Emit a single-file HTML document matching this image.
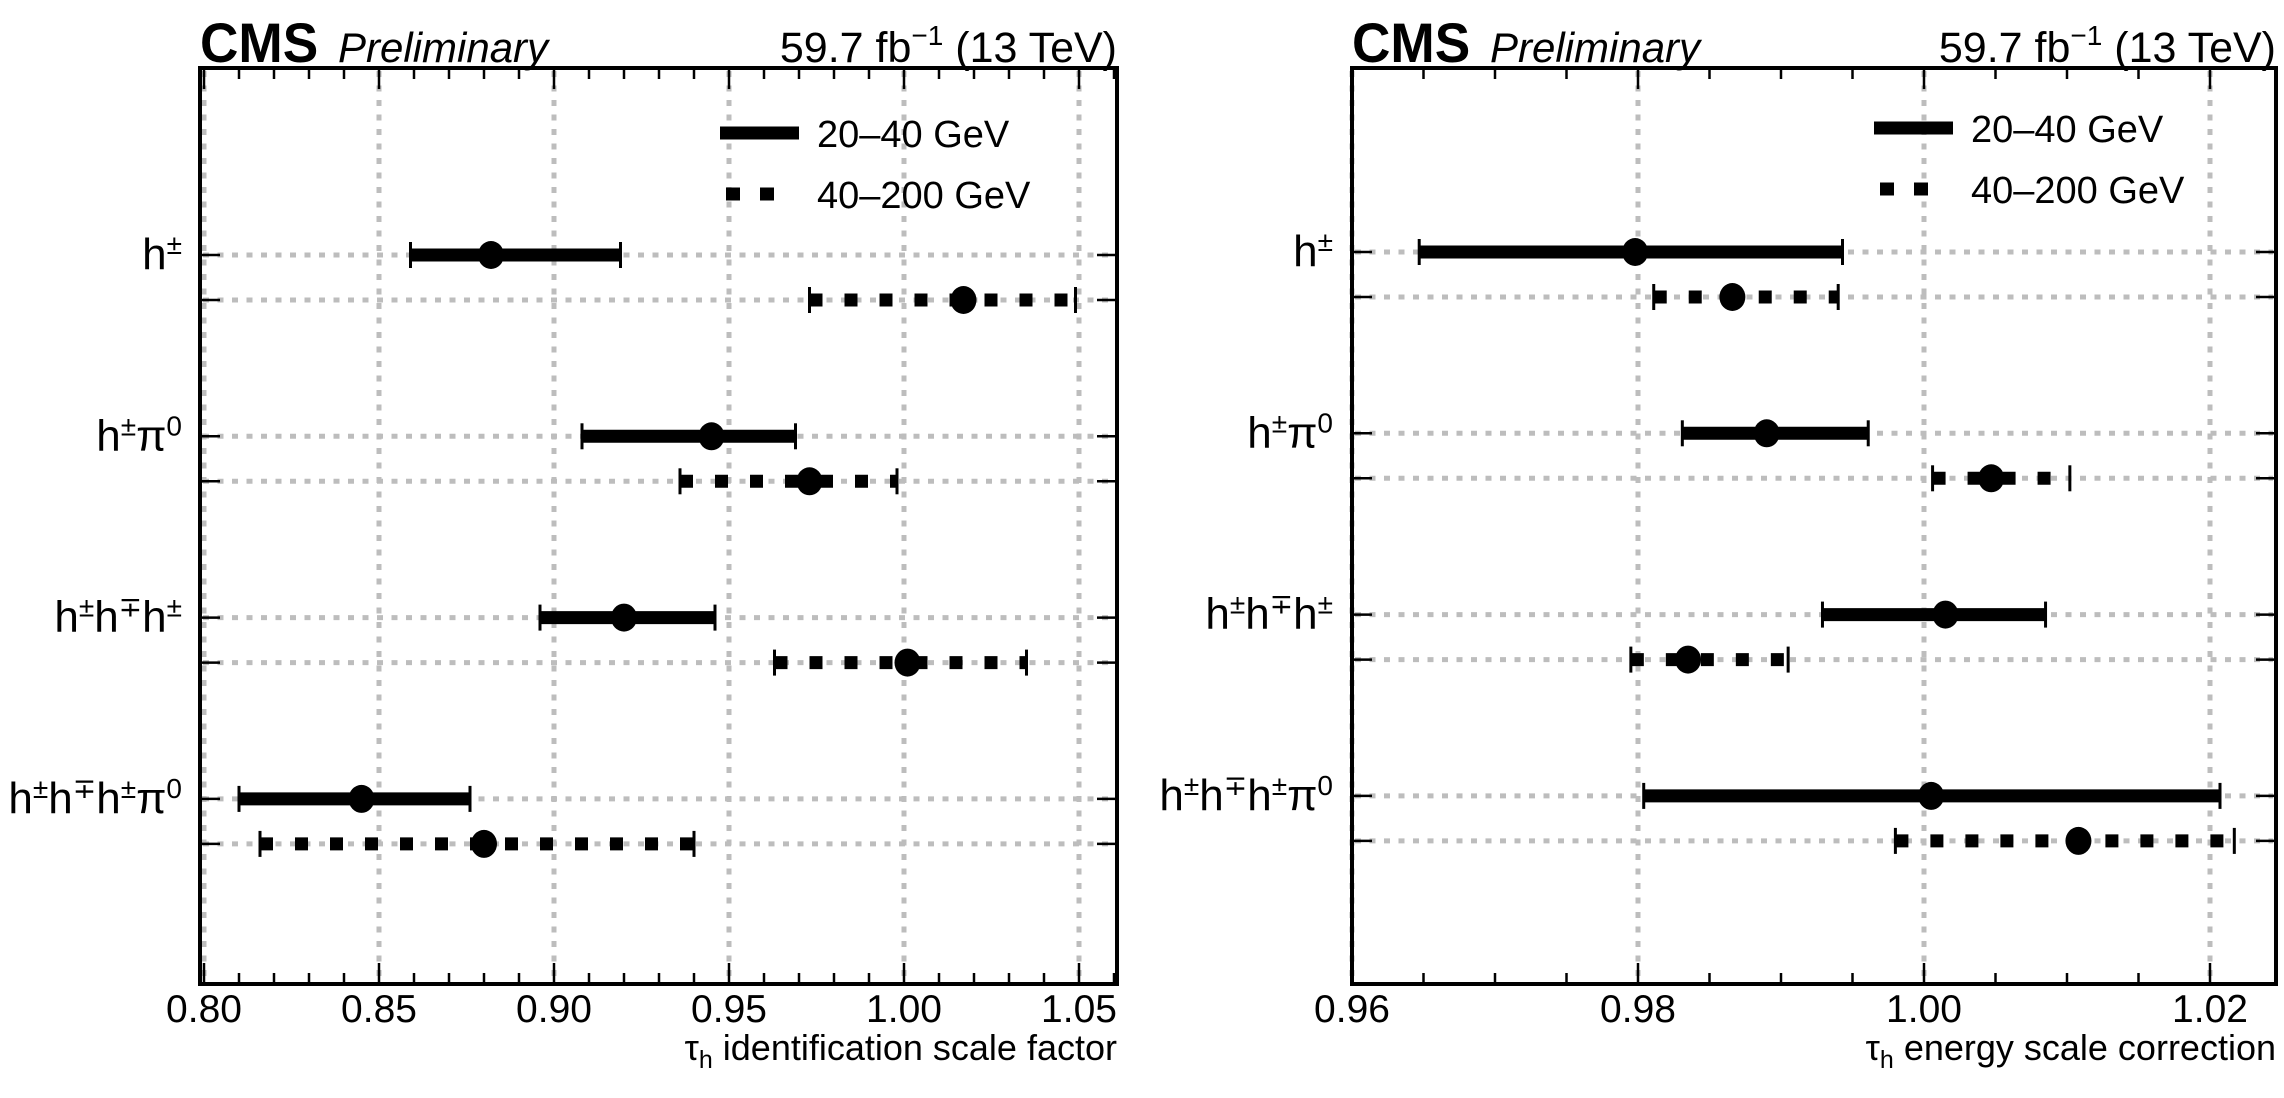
<!DOCTYPE html>
<html><head><meta charset="utf-8"><style>
html,body{margin:0;padding:0;background:#fff;width:2284px;height:1098px;overflow:hidden}
svg text{font-family:"Liberation Sans",sans-serif;fill:#000}
</style></head><body>
<svg id="chart" width="2284" height="1098" viewBox="0 0 2284 1098" xmlns="http://www.w3.org/2000/svg"></svg>
<script>
const categories = ["h±", "h±π0", "h±h∓h±", "h±h∓h±π0"];
const idLowVal = [0.882, 0.945, 0.920, 0.845];
const idLowErrLo = [0.859, 0.908, 0.896, 0.810];
const idLowErrHi = [0.919, 0.969, 0.946, 0.876];
const idHighVal = [1.017, 0.973, 1.001, 0.880];
const idHighErrLo = [0.973, 0.936, 0.963, 0.816];
const idHighErrHi = [1.049, 0.998, 1.035, 0.940];
const esLowVal = [0.9798, 0.9890, 1.0015, 1.0005];
const esLowErrLo = [0.9647, 0.9831, 0.9929, 0.9804];
const esLowErrHi = [0.9943, 0.9961, 1.0085, 1.0207];
const esHighVal = [0.9866, 1.0047, 0.9835, 1.0108];
const esHighErrLo = [0.9811, 1.0006, 0.9795, 0.9980];
const esHighErrHi = [0.9940, 1.0102, 0.9905, 1.0217];
const idTickLabels = ["0.80", "0.85", "0.90", "0.95", "1.00", "1.05"];
const esTickLabels = ["0.96", "0.98", "1.00", "1.02"];
const legendLabels = ["20–40 GeV", "40–200 GeV"];

const NS = "http://www.w3.org/2000/svg";
const svg = document.getElementById("chart");
function mk(tag, attrs, parent) {
  const e = document.createElementNS(NS, tag);
  for (const k in attrs) e.setAttribute(k, attrs[k]);
  (parent || svg).appendChild(e);
  return e;
}
function catLabel(g, x, y, name) {
  const t = mk("text", {x: x, y: y, "text-anchor": "end", "font-size": 44}, g);
  
  
  const parts = name.match(/h±|h∓|π0/g);
  parts.forEach(p => {
    const base = p[0], sup = p.slice(1);
    const a = mk("tspan", {dy: 0, "font-size": 44}, t); a.textContent = base;
    const b = mk("tspan", {dy: -15, "font-size": 28}, t); b.textContent = sup;
    const c = mk("tspan", {dy: 15, "font-size": 44}, t); c.textContent = "\u200B";
  });
}

function panel(opt) {
  const g = mk("g", {});
  
  
  const L = opt.left, R = opt.right, T = 68, B = 984;
  const xs = v => opt.x0px + (v - opt.x0) * opt.pxPerUnit;
  const rowY = (i, k) => opt.y0 + i * 181.3 + k * 45;
  const gridG = mk("g", {}, g);
  
  
  opt.ticks.forEach((lab) => {
    const x = xs(parseFloat(lab));
    const l = mk("line", {x1: x, x2: x, y1: T + 3, y2: B - 3, stroke: "#bdbdbd", "stroke-width": 5, "stroke-dasharray": "6 8.5"}, gridG);
    
    
  });
  categories.forEach((c, i) => {
    [0, 1].forEach(k => {
      const y = rowY(i, k);
      const l = mk("line", {x1: L + 3, x2: R - 3, y1: y, y2: y, stroke: "#bdbdbd", "stroke-width": 5, "stroke-dasharray": "6 8.5"}, gridG);
      
      
      mk("line", {x1: L, x2: L + 20, y1: y, y2: y, stroke: "#000", "stroke-width": 2.5}, g);
      mk("line", {x1: R - 20, x2: R, y1: y, y2: y, stroke: "#000", "stroke-width": 2.5}, g);
    });
    catLabel(g, opt.labelRight, rowY(i, 0) + 14, c);
  });
  for (let v = opt.x0; v <= opt.xmax + 1e-9; v += opt.minor) {
    const x = xs(v);
    if (x < L + 1 || x > R - 1) continue;
    const isMaj = Math.abs(v / opt.major - Math.round(v / opt.major)) < 1e-6;
    const len = isMaj ? 21 : 11;
    mk("line", {x1: x, x2: x, y1: T, y2: T + len, stroke: "#000", "stroke-width": 2.5}, g);
    mk("line", {x1: x, x2: x, y1: B, y2: B - len, stroke: "#000", "stroke-width": 2.5}, g);
  }
  opt.ticks.forEach(lab => {
    const t = mk("text", {x: xs(parseFloat(lab)), y: 1022, "text-anchor": "middle", "font-size": 39}, g);
    t.textContent = lab;
    
    
  });
  const series = [
    {val: opt.lowVal, lo: opt.lowLo, hi: opt.lowHi, k: 0, dash: null, nm: "series-20-40"},
    {val: opt.highVal, lo: opt.highLo, hi: opt.highHi, k: 1, dash: "13 22", nm: "series-40-200"}
  ];
  series.forEach(s => {
    const sg = mk("g", {}, g);
    
    
    s.val.forEach((v, i) => {
      const y = rowY(i, s.k), x1 = xs(s.lo[i]), x2 = xs(s.hi[i]);
      const a = {x1: x1, x2: x2, y1: y, y2: y, stroke: "#000", "stroke-width": 13};
      if (s.dash) a["stroke-dasharray"] = s.dash;
      const bar = mk("line", a, sg);
      
      
      mk("line", {x1: x1, x2: x1, y1: y - 13, y2: y + 13, stroke: "#000", "stroke-width": 3}, sg);
      mk("line", {x1: x2, x2: x2, y1: y - 13, y2: y + 13, stroke: "#000", "stroke-width": 3}, sg);
      const pt = mk("ellipse", {cx: xs(v), cy: y, rx: 13, ry: 14, fill: "#000"}, sg);
      
      
    });
  });
  const f = mk("rect", {x: L, y: T, width: R - L, height: B - T, fill: "none", stroke: "#000", "stroke-width": 4}, g);
  
  
  const lg = mk("g", {}, g);
  
  
  mk("line", {x1: opt.legX, x2: opt.legX + 79, y1: opt.legY, y2: opt.legY, stroke: "#000", "stroke-width": 13}, lg);
  mk("line", {x1: opt.legX + 6, x2: opt.legX + 60, y1: opt.legY + 61, y2: opt.legY + 61, stroke: "#000", "stroke-width": 13, "stroke-dasharray": "14 20"}, lg);
  legendLabels.forEach((lab, j) => {
    const t = mk("text", {x: opt.legX + 97, y: opt.legY + 14 + j * 61, "font-size": 38}, lg);
    t.textContent = lab;
    
    
  });
  const cms = mk("text", {x: L, y: 62, "font-size": 56, "font-weight": "bold", transform: `translate(${L},0) scale(0.95,1) translate(${-L},0)`}, g);
  cms.textContent = "CMS";
  
  
  const pre = mk("text", {x: L + 138, y: 62, "font-size": 42, "font-style": "italic"}, g);
  pre.textContent = "Preliminary";
  
  
  const lumi = mk("text", {x: R, y: 62, "text-anchor": "end", "font-size": 43}, g);
  lumi.innerHTML = '59.7 fb<tspan dy="-17" font-size="28">−1</tspan><tspan dy="17"> (13 TeV)</tspan>';
  
  
  const xt = mk("text", {x: R, y: 1060, "text-anchor": "end", "font-size": 36}, g);
  xt.innerHTML = 'τ<tspan dy="8" font-size="25">h</tspan><tspan dy="-8"> ' + opt.title + '</tspan>';
  
  
}

panel({name: "id-scale-factor-panel", left: 200, right: 1117, x0: 0.80, x0px: 204, pxPerUnit: 3500, xmax: 1.07,
  major: 0.05, minor: 0.01, ticks: idTickLabels, y0: 255, labelRight: 182,
  lowVal: idLowVal, lowLo: idLowErrLo, lowHi: idLowErrHi, highVal: idHighVal, highLo: idHighErrLo, highHi: idHighErrHi,
  legX: 720, legY: 133, title: "identification scale factor"});
panel({name: "energy-scale-panel", left: 1352, right: 2276, x0: 0.96, x0px: 1352, pxPerUnit: 14300, xmax: 1.03,
  major: 0.02, minor: 0.005, ticks: esTickLabels, y0: 252, labelRight: 1333,
  lowVal: esLowVal, lowLo: esLowErrLo, lowHi: esLowErrHi, highVal: esHighVal, highLo: esHighErrLo, highHi: esHighErrHi,
  legX: 1874, legY: 128, title: "energy scale correction"});
</script>
</body></html>
